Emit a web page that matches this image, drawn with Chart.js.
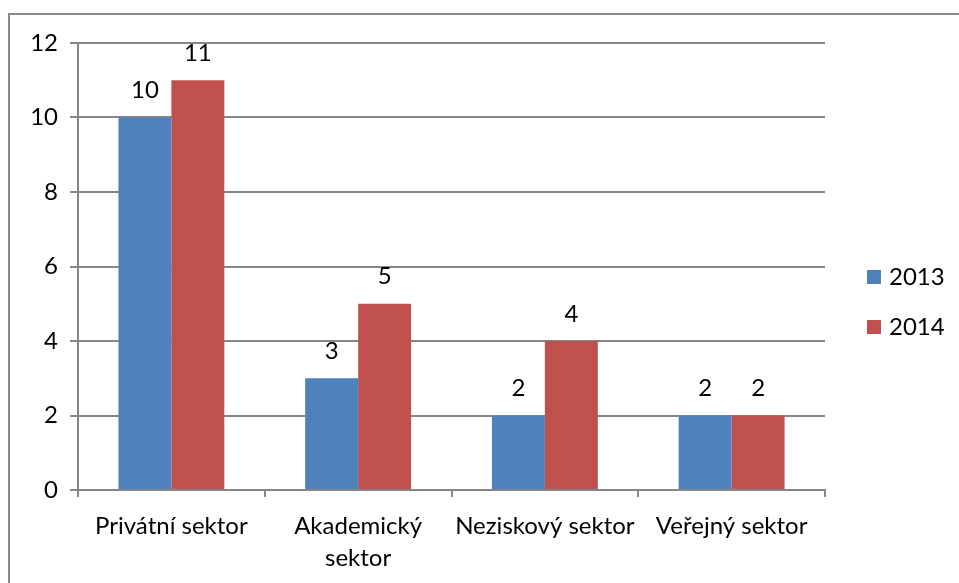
<!DOCTYPE html>
<html>
<head>
<meta charset="utf-8">
<script src="https://cdn.jsdelivr.net/npm/chart.js@4"></script>
<style>
  html, body { margin: 0; padding: 0; background: #fff; }
  #wrap { position: relative; width: 959px; height: 583px; overflow: hidden; }
  #frame { position: absolute; left: 8px; top: 13px; width: 1000px; height: 700px;
           border-top: 2px solid #8a8a8a; border-left: 2px solid #8a8a8a; box-sizing: border-box; }
  canvas { position: absolute; left: 0; top: 0; }
</style>
</head>
<body>
<div id="wrap">
  <div id="frame"></div>
  <canvas id="barChart" width="959" height="583"></canvas>
</div>
<script>
const sektory = ['Privátní sektor', ['Akademický', 'sektor'], 'Neziskový sektor', 'Veřejný sektor'];
const roky = ['2013', '2014'];
const hodnoty2013 = [10, 3, 2, 2];
const hodnoty2014 = [11, 5, 4, 2];
const yTicks = [0, 2, 4, 6, 8, 10, 12];

const barvy = ['#4F81BD', '#C0504D'];
const pismo = 'Lato, Carlito, Calibri, sans-serif';
const velikost = 24;

// popisky nad sloupci
const popisky = {
    id: 'popisky',
    afterDatasetsDraw(chart) {
        const ctx = chart.ctx;
        ctx.save();
        ctx.font = velikost + 'px ' + pismo;
        ctx.fillStyle = '#000';
        ctx.textAlign = 'center';
        ctx.textBaseline = 'middle';
        chart.data.datasets.forEach((ds, i) => {
            chart.getDatasetMeta(i).data.forEach((bar, j) => {
                ctx.fillText(ds.data[j], bar.x, bar.y - 27);
            });
        });
        ctx.restore();
    }
};

// legenda vpravo
const legenda = {
    id: 'legenda',
    afterDraw(chart) {
        const ctx = chart.ctx;
        ctx.save();
        ctx.font = velikost + 'px ' + pismo;
        ctx.textBaseline = 'middle';
        ctx.textAlign = 'left';
        chart.data.datasets.forEach((ds, i) => {
            const y = 277 + i * 50;
            ctx.fillStyle = ds.backgroundColor;
            ctx.fillRect(867, y - 7, 14, 14);
            ctx.fillStyle = '#000';
            ctx.fillText(ds.label, 889, y);
        });
        ctx.restore();
    }
};

const ctx = document.getElementById('barChart').getContext('2d');
new Chart(ctx, {
    type: 'bar',
    data: {
        labels: sektory,
        datasets: [
            { label: roky[0], data: hodnoty2013, backgroundColor: barvy[0] },
            { label: roky[1], data: hodnoty2014, backgroundColor: barvy[1] }
        ]
    },
    options: {
        responsive: false,
        animation: false,
        devicePixelRatio: 1,
        layout: { padding: { left: 0, top: 43, right: 134, bottom: 0 } },
        categoryPercentage: 0.567,
        barPercentage: 1,
        plugins: { legend: { display: false }, tooltip: { enabled: false } },
        scales: {
            x: {
                grid: { display: true, offset: true, drawOnChartArea: false, drawTicks: true, tickLength: 7, color: '#868686', lineWidth: 2 },
                border: { color: '#868686', width: 2 },
                ticks: { color: '#000', font: { family: pismo, size: velikost, lineHeight: 1.35 }, padding: 13, maxRotation: 0, autoSkip: false },
                afterFit(scale) { scale.height = 93; }
            },
            y: {
                min: 0,
                max: 12,
                afterBuildTicks(scale) { scale.ticks = yTicks.map(v => ({ value: v })); },
                grid: { color: '#868686', lineWidth: 2, tickLength: 8 },
                border: { color: '#868686', width: 2 },
                ticks: { color: '#000', font: { family: pismo, size: velikost }, padding: 12 },
                afterFit(scale) { scale.width = 78; }
            }
        }
    },
    plugins: [popisky, legenda]
});
</script>
</body>
</html>
